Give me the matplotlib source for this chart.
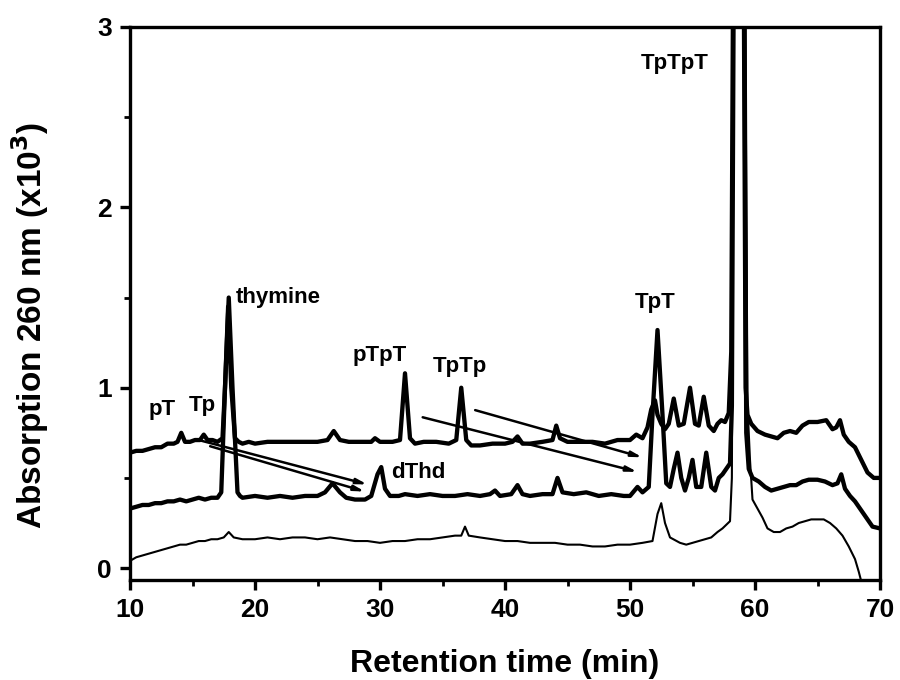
import matplotlib
matplotlib.use("Agg")
import matplotlib.pyplot as plt
from matplotlib.ticker import MultipleLocator

plt.rcParams['font.family'] = ['Liberation Sans', 'DejaVu Sans']
plt.rcParams['font.weight'] = 'bold'

# top trace (thick)
t_a = [10, 10.5, 11, 11.5, 12, 12.5, 13, 13.5, 13.8, 14.1, 14.4, 14.8, 15.2, 15.6, 15.9, 16.2, 16.6, 17.0, 17.4,
       17.6, 17.85, 18.1, 18.4, 18.7, 19.0, 19.5, 20, 21, 22, 23, 24, 25, 25.8, 26.3, 26.8, 27.5, 28.5, 29.3, 29.6,
       30, 31, 31.6, 32.0, 32.4, 32.8, 33.5, 34.5, 35.5, 36.1, 36.5, 36.9, 37.3, 38, 39, 40, 40.6, 41.0, 41.4, 42,
       43, 43.8, 44.1, 44.4, 45, 46, 47, 48, 49, 50, 50.5, 51, 51.4, 51.7, 52.0, 52.2, 52.5, 52.8, 53.1, 53.5, 53.9,
       54.3, 54.8, 55.2, 55.5, 55.9, 56.3, 56.7, 57.0, 57.3, 57.6, 57.9, 58.1, 58.25, 58.7, 59.1, 59.25, 59.4, 59.7,
       60.2, 60.8, 61.3, 61.8, 62.3, 62.8, 63.3, 63.8, 64.3, 65, 65.7, 66.2, 66.5, 66.8, 67.1, 67.5, 68.0, 68.5,
       69.0, 69.5, 70]
a_a = [0.64, 0.65, 0.65, 0.66, 0.67, 0.67, 0.69, 0.69, 0.70, 0.75, 0.70, 0.70, 0.71, 0.71, 0.74, 0.71, 0.71, 0.70,
       0.72, 1.00, 1.45, 1.00, 0.72, 0.70, 0.69, 0.70, 0.69, 0.70, 0.70, 0.70, 0.70, 0.70, 0.71, 0.76, 0.71, 0.70,
       0.70, 0.70, 0.72, 0.70, 0.70, 0.71, 1.08, 0.72, 0.69, 0.70, 0.70, 0.69, 0.71, 1.00, 0.71, 0.68, 0.68, 0.69,
       0.69, 0.70, 0.73, 0.69, 0.69, 0.70, 0.71, 0.79, 0.72, 0.70, 0.70, 0.70, 0.69, 0.71, 0.71, 0.74, 0.72, 0.78,
       0.88, 0.93, 0.85, 0.80, 0.77, 0.80, 0.94, 0.79, 0.80, 1.00, 0.80, 0.79, 0.95, 0.79, 0.76, 0.80, 0.82, 0.81,
       0.86, 1.20, 3.30, 4.50, 3.30, 1.00, 0.85, 0.80, 0.76, 0.74, 0.73, 0.72, 0.75, 0.76, 0.75, 0.79, 0.81, 0.81,
       0.82, 0.77, 0.78, 0.82, 0.74, 0.70, 0.67, 0.60, 0.53, 0.50, 0.50]

# middle trace (thick)
t_b = [10, 10.5, 11, 11.5, 12, 12.5, 13, 13.5, 14, 14.5, 15, 15.5, 16, 16.5, 17.0, 17.3, 17.6, 17.9, 18.2, 18.6,
       18.8, 19, 20, 21, 22, 23, 24, 25, 25.6, 26.2, 26.8, 27.3, 28, 28.8, 29.3, 29.8, 30.1, 30.4, 30.8, 31.5, 32,
       33, 34, 35, 36, 37, 38, 38.8, 39.2, 39.6, 40.5, 41, 41.4, 42, 43, 43.8, 44.2, 44.6, 45.5, 46.5, 47, 47.5,
       48.5, 49.5, 50, 50.6, 51, 51.5, 51.8, 52.2, 52.6, 52.9, 53.2, 53.5, 53.8, 54.1, 54.4, 54.7, 55.0, 55.3, 55.7,
       56.1, 56.5, 56.8, 57.1, 57.4, 57.7, 58.0, 58.15, 58.3, 58.7, 59.15, 59.3, 59.5, 59.8, 60.3, 60.8, 61.3, 61.8,
       62.3, 62.8, 63.3, 63.8, 64.3, 65, 65.6, 66.2, 66.6, 66.9, 67.2, 67.6, 68.0, 68.5, 69.0, 69.4, 70]
a_b = [0.33, 0.34, 0.35, 0.35, 0.36, 0.36, 0.37, 0.37, 0.38, 0.37, 0.38, 0.39, 0.38, 0.39, 0.39, 0.42, 1.00, 1.50,
       1.00, 0.42, 0.40, 0.39, 0.40, 0.39, 0.40, 0.39, 0.40, 0.40, 0.42, 0.47, 0.42, 0.39, 0.38, 0.38, 0.40, 0.52,
       0.56, 0.44, 0.40, 0.40, 0.41, 0.40, 0.41, 0.40, 0.40, 0.41, 0.40, 0.41, 0.43, 0.40, 0.41, 0.46, 0.41, 0.40,
       0.41, 0.41, 0.50, 0.42, 0.41, 0.42, 0.41, 0.40, 0.41, 0.40, 0.40, 0.45, 0.42, 0.45, 0.85, 1.32, 0.85, 0.47,
       0.45, 0.55, 0.64, 0.50, 0.43, 0.50, 0.60, 0.45, 0.45, 0.64, 0.45, 0.43, 0.50, 0.52, 0.55, 0.58, 0.90, 3.30,
       4.50, 3.30, 0.75, 0.55, 0.50, 0.48, 0.45, 0.43, 0.44, 0.45, 0.46, 0.46, 0.48, 0.49, 0.49, 0.48, 0.46, 0.47,
       0.52, 0.44, 0.40, 0.37, 0.32, 0.27, 0.23, 0.22]

# bottom trace (thin)
t_c = [10, 10.5, 11, 11.5, 12, 12.5, 13, 13.5, 14, 14.5, 15, 15.5, 16, 16.5, 17, 17.5, 17.9, 18.3, 19, 20, 21, 22,
       23, 24, 25, 26, 27, 28, 29, 30, 31, 32, 33, 34, 35, 36, 36.5, 36.8, 37.1, 38, 39, 40, 41, 42, 43, 44, 45, 46,
       47, 48, 49, 50, 51, 51.8, 52.2, 52.5, 52.8, 53.2, 54, 54.5, 55, 55.5, 56, 56.5, 57, 57.4, 57.7, 58.0, 58.15,
       58.3, 58.8, 59.2, 59.4, 59.6, 59.8, 60.2, 60.6, 61, 61.5, 62, 62.5, 63, 63.5, 64, 64.5, 65, 65.5, 66, 66.5,
       67, 67.5, 68, 68.3, 68.6]
a_c = [0.04, 0.06, 0.07, 0.08, 0.09, 0.10, 0.11, 0.12, 0.13, 0.13, 0.14, 0.15, 0.15, 0.16, 0.16, 0.17, 0.20, 0.17,
       0.16, 0.16, 0.17, 0.16, 0.17, 0.17, 0.16, 0.17, 0.16, 0.15, 0.15, 0.14, 0.15, 0.15, 0.16, 0.16, 0.17, 0.18,
       0.18, 0.23, 0.18, 0.17, 0.16, 0.15, 0.15, 0.14, 0.14, 0.14, 0.13, 0.13, 0.12, 0.12, 0.13, 0.13, 0.14, 0.15,
       0.30, 0.36, 0.25, 0.17, 0.14, 0.13, 0.14, 0.15, 0.16, 0.17, 0.20, 0.22, 0.24, 0.26, 0.50, 3.30, 4.50, 3.30,
       0.90, 0.60, 0.38, 0.33, 0.28, 0.22, 0.20, 0.20, 0.22, 0.23, 0.25, 0.26, 0.27, 0.27, 0.27, 0.25, 0.22, 0.18,
       0.12, 0.05, -0.02, -0.10]

# peak labels: text, x, y
labels = ["pT", "Tp", "thymine", "pTpT", "TpTp", "dThd", "TpT", "TpTpT"]
label_x = [12.6, 15.8, 18.5, 30.0, 36.4, 30.9, 52.0, 53.6]
label_y = [0.88, 0.90, 1.50, 1.18, 1.12, 0.53, 1.47, 2.80]
label_ha = ["center", "center", "left", "center", "center", "left", "center", "center"]

# arrows: start (x, y) -> end (x, y)
arrow_from = [(15.5, 0.71), (16.2, 0.68), (33.2, 0.84), (37.4, 0.88)]
arrow_to = [(29.2, 0.46), (29.0, 0.42), (50.8, 0.53), (51.2, 0.61)]

fig = plt.figure(figsize=(9, 6.8), dpi=100)
ax = fig.add_axes([130 / 900, 1 - 580 / 680, 750 / 900, 553 / 680])

ax.plot(t_a, a_a, color='black', lw=3.1, solid_joinstyle='round')
ax.plot(t_b, a_b, color='black', lw=3.1, solid_joinstyle='round')
ax.plot(t_c, a_c, color='black', lw=1.5)

for s, x, y, ha in zip(labels, label_x, label_y, label_ha):
    ax.text(x, y, s, ha=ha, va='center', fontsize=16, fontweight='bold')

for p0, p1 in zip(arrow_from, arrow_to):
    ax.annotate('', xy=p1, xytext=p0,
                arrowprops=dict(arrowstyle='-|>,head_length=0.6,head_width=0.15', color='black', lw=1.8))

ax.set_xlim(10, 70)
ax.set_ylim(-0.066, 3)
ax.xaxis.set_major_locator(MultipleLocator(10))
ax.xaxis.set_minor_locator(MultipleLocator(5))
ax.yaxis.set_major_locator(MultipleLocator(1))
ax.yaxis.set_minor_locator(MultipleLocator(0.5))
ax.tick_params(which='major', direction='out', length=7, width=2.4, labelsize=19, pad=6)
ax.tick_params(which='minor', direction='out', length=4, width=2.0)
for sp in ax.spines.values():
    sp.set_linewidth(2.4)
for lab in ax.get_xticklabels() + ax.get_yticklabels():
    lab.set_fontweight('bold')

ax.set_xlabel('Retention time (min)', fontsize=23, fontweight='bold')
ax.set_ylabel('Absorption 260 nm (x10$^{\\mathbf{3}}$)', fontsize=24, fontweight='bold')
ax.xaxis.set_label_coords(0.5, -0.125)
ax.yaxis.set_label_coords(-0.105, 0.46)

fig.savefig('out.png', dpi=100)
